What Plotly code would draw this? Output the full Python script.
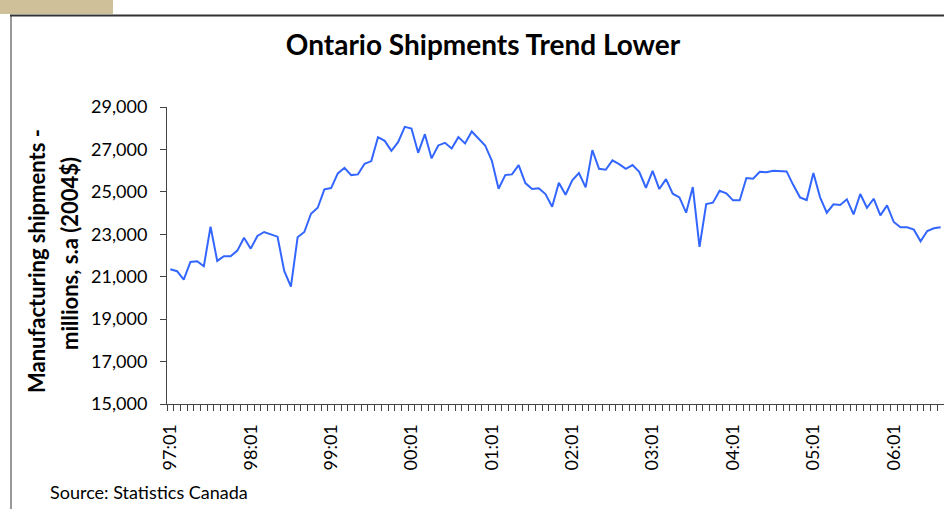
import plotly.graph_objects as go

# ---- data ----
years = ["97", "98", "99", "00", "01", "02", "03", "04", "05", "06"]
month_nums = ["01", "02", "03", "04", "05", "06", "07", "08", "09", "10", "11", "12"]
months = [f"{y}:{m}" for y in years for m in month_nums][:116]

shipments = [
    21353, 21259, 20864, 21697, 21730, 21494, 23358, 21744, 21965, 21965, 22229, 22840,
    22323, 22920, 23108, 23000, 22888, 21273, 20535, 22859, 23108, 23970, 24252, 25118,
    25179, 25871, 26135, 25791, 25824, 26323, 26450, 27580, 27405, 26935, 27344, 28064,
    27988, 26841, 27720, 26577, 27188, 27311, 27047, 27580, 27282, 27847, 27532, 27188,
    26464, 25146, 25791, 25824, 26262, 25415, 25132, 25165, 24897, 24300, 25429, 24865,
    25541, 25885, 25212, 26967, 26088, 26040, 26483, 26309, 26088, 26262, 25946, 25193,
    25993, 25132, 25602, 24911, 24741, 24017, 25226, 22403, 24426, 24488, 25052, 24930,
    24601, 24601, 25650, 25617, 25946, 25930, 25993, 25993, 25965, 25320, 24741, 24614,
    25885, 24741, 24017, 24412, 24379, 24647, 23941, 24897, 24252, 24676, 23894, 24365,
    23579, 23330, 23330, 23217, 22671, 23155, 23283, 23330,
]
tick_labels = ["97:01", "98:01", "99:01", "00:01", "01:01", "02:01", "03:01", "04:01", "05:01", "06:01"]
y_ticks = [15000, 17000, 19000, 21000, 23000, 25000, 27000, 29000]

FONT = "Lato, 'Open Sans', sans-serif"
W, H = 944, 509
L, R, T, B = 167, 0, 107, 105

ticktext = [m if m in tick_labels else "" for m in months]

fig = go.Figure()
fig.add_trace(go.Scatter(
    x=months, y=shipments, mode="lines",
    line=dict(color="#3366FF", width=2),
    hoverinfo="x+y", showlegend=False,
))

fig.update_layout(
    width=W, height=H,
    margin=dict(l=L, r=R, t=T, b=B, autoexpand=False),
    paper_bgcolor="white", plot_bgcolor="white",
    font=dict(family=FONT, color="black", size=18),
    title=dict(
        text="<b>Ontario Shipments Trend Lower</b>",
        x=483 / W, y=1 - 45 / H, xref="container", yref="container",
        xanchor="center", yanchor="middle",
        font=dict(family=FONT, size=28, color="black"),
    ),
    xaxis=dict(
        type="category",
        categoryorder="array", categoryarray=months,
        range=[-0.5, len(months) - 0.5],
        tickmode="array", tickvals=months, ticktext=ticktext,
        tickson="boundaries",
        ticks="outside", ticklen=6, tickwidth=1, tickcolor="#444",
        tickangle=-90, ticklabelstandoff=12,
        tickfont=dict(family=FONT, size=18, color="black"),
        showline=True, linecolor="#444", linewidth=1,
        showgrid=False, zeroline=False,
    ),
    yaxis=dict(
        range=[15000, 29000],
        tickmode="array", tickvals=y_ticks,
        tickformat=",d",
        ticks="outside", ticklen=6, tickwidth=1, tickcolor="#444",
        ticklabelstandoff=9,
        tickfont=dict(family=FONT, size=18, color="black"),
        showline=True, linecolor="#444", linewidth=1,
        showgrid=False, zeroline=False,
    ),
)

def px_x(px):
    return (px - L) / (W - L - R)

def px_y(py):
    return (H - B - py) / (H - T - B)

fig.add_annotation(
    text="<b>Manufacturing shipments -</b>", textangle=-90,
    xref="paper", yref="paper", x=px_x(36), y=px_y(261),
    xanchor="center", yanchor="middle", showarrow=False,
    font=dict(family=FONT, size=22, color="black"),
)
fig.add_annotation(
    text="<b>millions, s.a (2004$)</b>", textangle=-90,
    xref="paper", yref="paper", x=px_x(69), y=px_y(254),
    xanchor="center", yanchor="middle", showarrow=False,
    font=dict(family=FONT, size=22, color="black"),
)
fig.add_annotation(
    text="Source: Statistics Canada",
    xref="paper", yref="paper", x=px_x(48), y=px_y(492),
    xanchor="left", yanchor="middle", showarrow=False,
    font=dict(family=FONT, size=18, color="black"),
)

# decorative frame
fig.add_shape(type="rect", xref="paper", yref="paper",
              x0=px_x(0), x1=px_x(113), y0=px_y(0), y1=px_y(14),
              fillcolor="#CFC09A", line=dict(width=0), layer="above")
fig.add_shape(type="line", xref="paper", yref="paper",
              x0=px_x(10), x1=px_x(944), y0=px_y(15.5), y1=px_y(15.5),
              line=dict(color="#333333", width=2))
fig.add_shape(type="line", xref="paper", yref="paper",
              x0=px_x(11), x1=px_x(11), y0=px_y(15), y1=px_y(509),
              line=dict(color="#333333", width=1))

fig.write_html(
    "out.html",
    config={"displayModeBar": False},
    post_script="document.body.style.margin='0';document.body.style.padding='0';",
)
